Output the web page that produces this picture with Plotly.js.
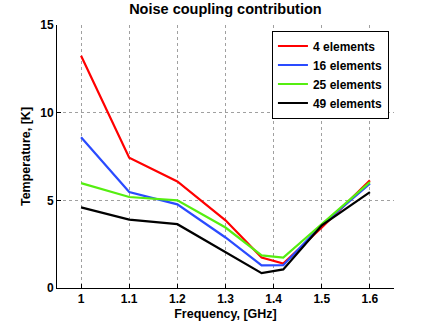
<!DOCTYPE html>
<html>
<head>
<meta charset="utf-8">
<script src="https://cdn.plot.ly/plotly-3.0.1.min.js"></script>
<style>html,body{margin:0;padding:0;background:#fff;}#chart{width:436px;height:325px;}</style>
</head>
<body>
<div id="chart"></div>
<script>
const freq = [1.0, 1.1, 1.2, 1.3, 1.375, 1.42, 1.5, 1.6];
const t4  = [13.25, 7.43, 6.08, 3.86, 1.74, 1.40, 3.45, 6.14];
const t16 = [8.6, 5.47, 4.77, 2.88, 1.29, 1.30, 3.6, 5.95];
const t25 = [5.98, 5.19, 5.0, 3.45, 1.86, 1.74, 3.65, 6.04];
const t49 = [4.6, 3.9, 3.64, 2.06, 0.85, 1.06, 3.58, 5.47];
const seriesNames = ['4 elements', '16 elements', '25 elements', '49 elements'];
const seriesColors = ['#ff0000', '#2a4bff', '#55ee10', '#000000'];
const xTicks = [1, 1.1, 1.2, 1.3, 1.4, 1.5, 1.6];
const xTickText = ['1', '1.1', '1.2', '1.3', '1.4', '1.5', '1.6'];
const yTicks = [0, 5, 10, 15];

const font = {family: 'Liberation Sans, Arial, sans-serif', color: '#000'};
const data = [t4, t16, t25, t49].map((ys, i) => ({
  x: freq, y: ys, type: 'scatter', mode: 'lines', name: seriesNames[i],
  line: {color: seriesColors[i], width: 2.2}
}));

const axisCommon = {
  showline: true, linecolor: '#000', linewidth: 1, mirror: false,
  ticks: 'inside', ticklen: 4, tickcolor: '#000',
  showgrid: true, gridcolor: '#a0a0a0', griddash: 'dot', gridwidth: 1,
  zeroline: false,
  tickfont: Object.assign({size: 12, weight: 'bold'}, font)
};
const layout = {
  width: 436, height: 325,
  margin: {l: 57, r: 42, t: 24.5, b: 37},
  paper_bgcolor: '#fff', plot_bgcolor: '#fff',
  title: {text: 'Noise coupling contribution', x: 0.517, xanchor: 'center', y: 0.988, yanchor: 'top',
          font: Object.assign({size: 14.5, weight: 'bold'}, font)},
  xaxis: Object.assign({}, axisCommon, {
    range: [0.95, 1.65], tickvals: xTicks, ticktext: xTickText,
    title: {text: 'Frequency, [GHz]', standoff: 3, font: Object.assign({size: 12.5, weight: 'bold'}, font)}
  }),
  yaxis: Object.assign({}, axisCommon, {
    range: [0, 15], tickvals: yTicks,
    title: {text: 'Temperature, [K]', standoff: 6, font: Object.assign({size: 12.5, weight: 'bold'}, font)}
  }),
  legend: {
    x: 0.985, xanchor: 'right', y: 0.979, yanchor: 'top',
    bgcolor: '#fff', bordercolor: '#000', borderwidth: 1,
    font: Object.assign({size: 12, weight: 'bold'}, font),
    tracegroupgap: 0, itemwidth: 30
  },
  showlegend: true
};
Plotly.newPlot('chart', data, layout, {displayModeBar: false, staticPlot: true});
</script>
</body>
</html>
